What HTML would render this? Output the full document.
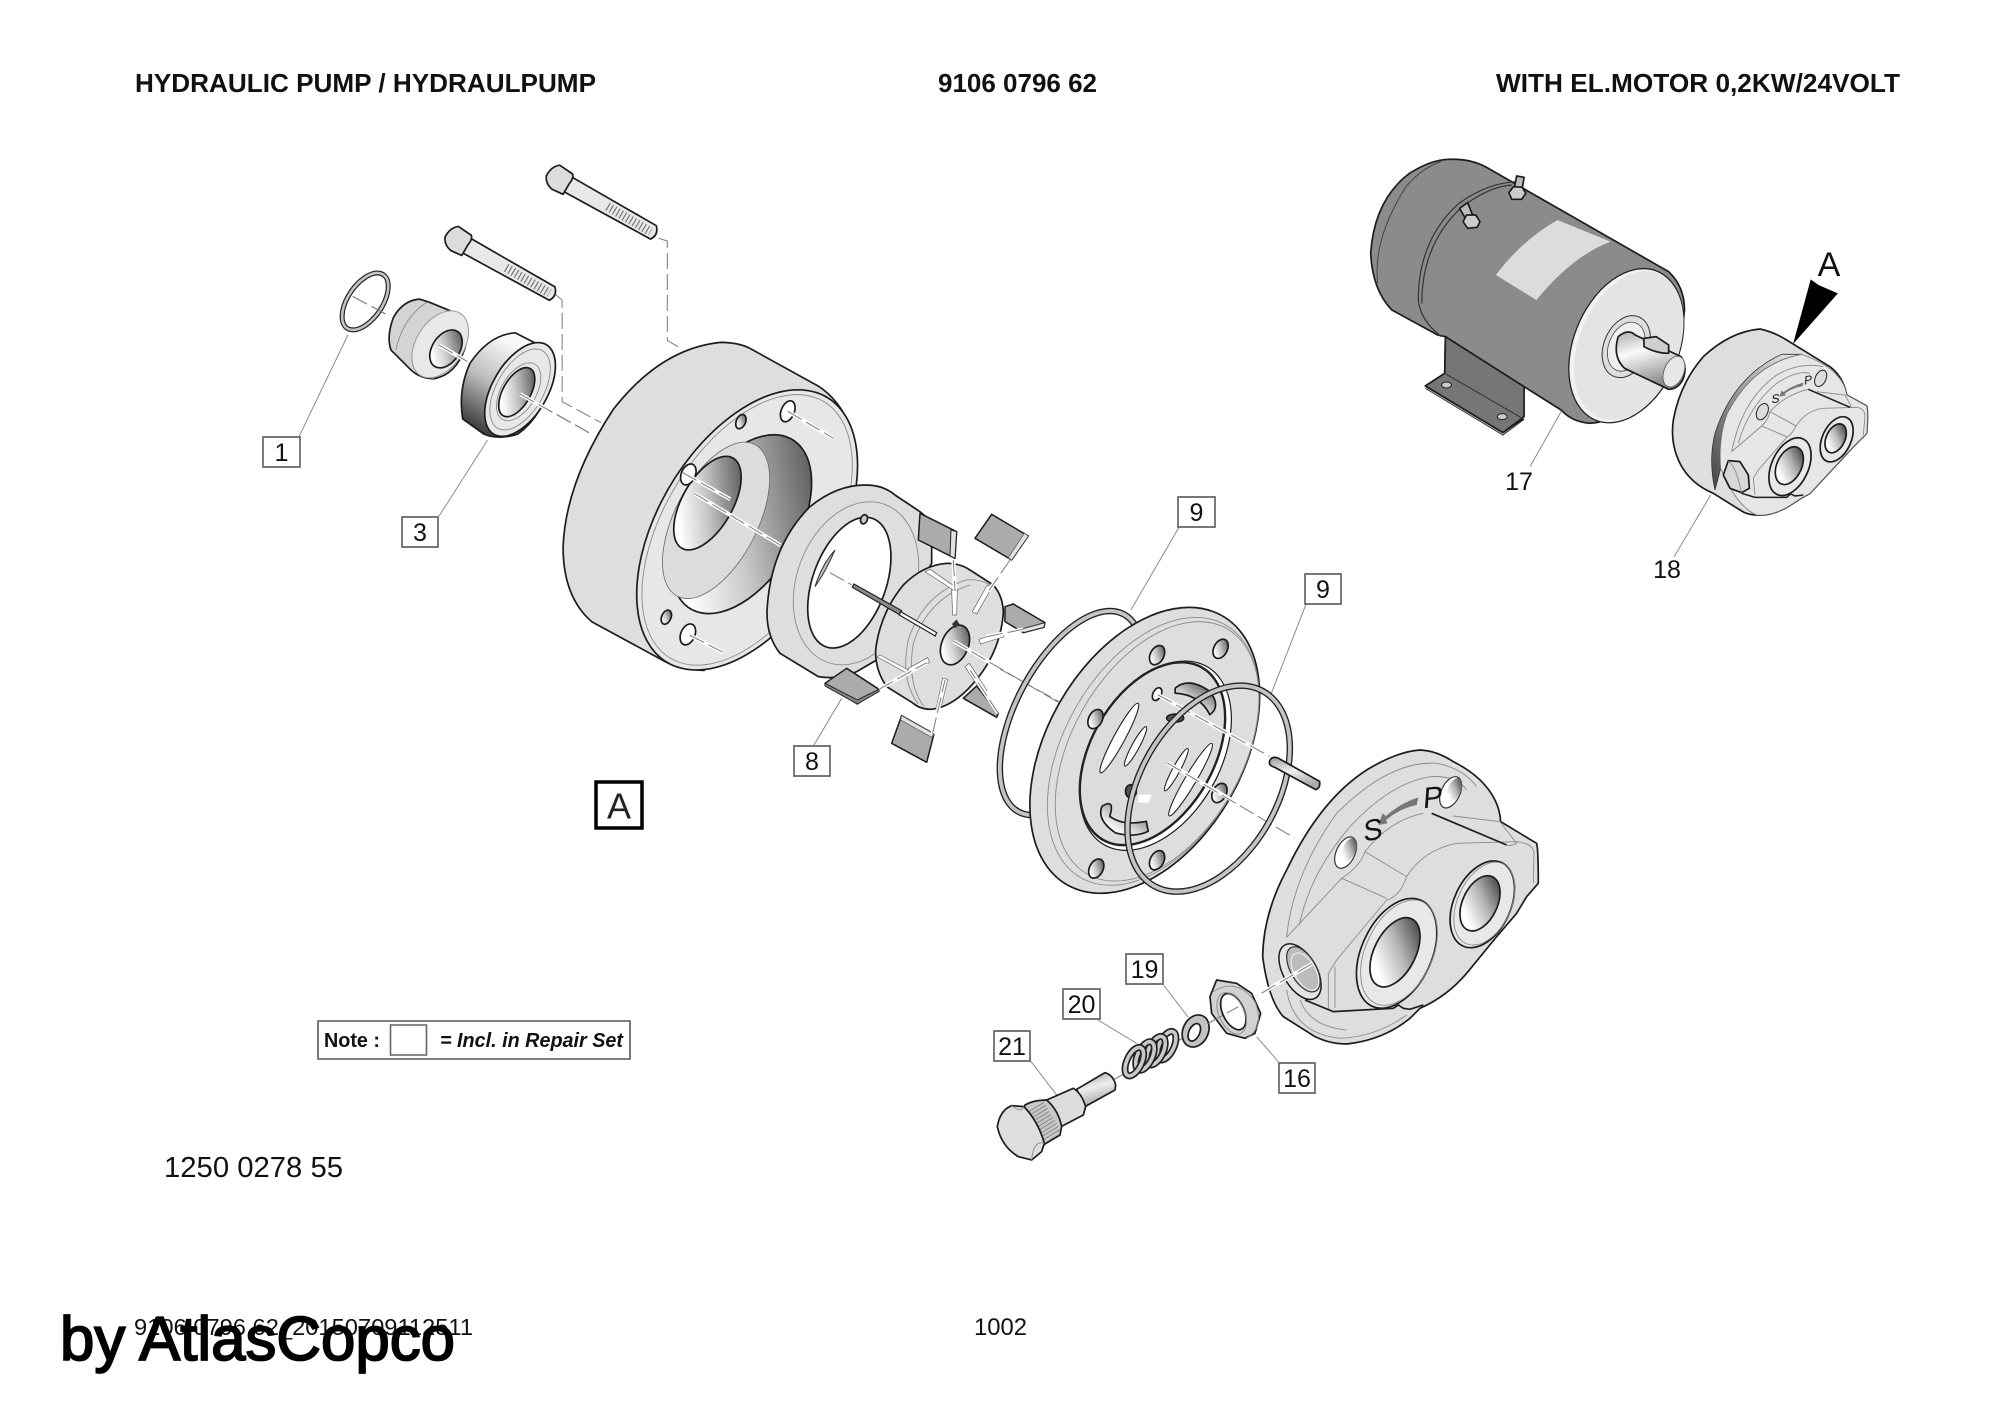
<!DOCTYPE html>
<html>
<head>
<meta charset="utf-8">
<title>Hydraulic pump 9106 0796 62</title>
<style>
html,body{margin:0;padding:0;background:#fff;width:2000px;height:1414px;overflow:hidden}
svg{display:block;font-family:"Liberation Sans",sans-serif}
svg *{vector-effect:non-scaling-stroke}
.o{stroke:#1c1c1c;stroke-width:1.7;stroke-linejoin:round}
.t{fill:none;stroke:#8a8a8a;stroke-width:.9}
.l{fill:none;stroke:#8c8c8c;stroke-width:1}
.d{fill:none;stroke:#7a7a7a;stroke-width:1;stroke-dasharray:16 5}
.w{fill:none;stroke:#fff;stroke-width:4}
.f{fill:#dedede}.g{fill:#e8e8e8}
.r1{fill:none;stroke:#222;stroke-width:6.5}
.r2{fill:none;stroke:#c4c4c4;stroke-width:3.8}
.s1{fill:none;stroke:#222;stroke-width:7}
.s2{fill:none;stroke:#c9c9c9;stroke-width:3.6}
.box{fill:#fff;stroke:#666;stroke-width:1.7}
.n{font-size:25px;text-anchor:middle;fill:#111}
.h{font-size:25.5px;font-weight:bold;fill:#111}
.v{fill:#ababab;stroke:#1c1c1c;stroke-width:1.5;stroke-linejoin:round}
</style>
</head>
<body>
<svg width="2000" height="1414" viewBox="0 0 2000 1414" xmlns="http://www.w3.org/2000/svg">
<defs>
<linearGradient id="hg" x1=".8" y1="0" x2=".3" y2="1"><stop offset="0" stop-color="#3d3d3d"/><stop offset=".45" stop-color="#b5b5b5"/><stop offset=".85" stop-color="#fff"/></linearGradient>
<linearGradient id="bg" x1=".85" y1=".05" x2=".2" y2=".8"><stop offset="0" stop-color="#555"/><stop offset=".6" stop-color="#c9c9c9"/><stop offset="1" stop-color="#fff"/></linearGradient>
<linearGradient id="sd" x1=".1" y1=".95" x2=".55" y2=".1"><stop offset="0" stop-color="#2e2e2e"/><stop offset=".55" stop-color="#bdbdbd"/><stop offset="1" stop-color="#f8f8f8"/></linearGradient>
<linearGradient id="sh" x1="0" y1="0" x2=".35" y2="1"><stop offset="0" stop-color="#aaa"/><stop offset=".4" stop-color="#fafafa"/><stop offset="1" stop-color="#8a8a8a"/></linearGradient>
<linearGradient id="bd" x1="0" y1="1" x2="1" y2="0"><stop offset="0" stop-color="#444"/><stop offset=".5" stop-color="#999"/><stop offset="1" stop-color="#eee"/></linearGradient>
<linearGradient id="pn" x1="0" y1="0" x2=".3" y2="1"><stop offset="0" stop-color="#999"/><stop offset=".5" stop-color="#eee"/><stop offset="1" stop-color="#aaa"/></linearGradient>
</defs>

<!-- GROUP 1: bolts, o-ring, bushing, bearing, housing -->
<g transform="translate(250 130) scale(.478 .3827)">
  <polyline class="d" points="855,283 873,290 873,550 900,570"/>
  <polyline class="d" points="640,430 653,445 653,710 735,765"/>
  <line class="d" x1="565" y1="690" x2="715" y2="795"/>
  <line class="d" x1="215" y1="435" x2="290" y2="485"/>
  <line class="l" x1="205" y1="535" x2="103" y2="800"/>
  <line class="l" x1="497" y1="810" x2="395" y2="1010"/>

  <!-- bolt 1 -->
  <path class="o g" d="M672,122 L850,250 Q855,275 838,285 L655,160 Z"/>
  <line x1="748" y1="200" x2="838" y2="266" stroke="#777" stroke-width="9" stroke-dasharray="1.2 2.6"/>
  <path class="o" fill="#dcdcdc" d="M648,92 L675,115 Q678,125 668,140 L655,168 L632,155 Q618,140 620,120 Q630,95 648,92 Z"/>
  <!-- bolt 2 -->
  <path class="o g" d="M460,282 L638,410 Q643,435 626,445 L443,320 Z"/>
  <line x1="536" y1="360" x2="626" y2="426" stroke="#777" stroke-width="9" stroke-dasharray="1.2 2.6"/>
  <path class="o" fill="#dcdcdc" d="M436,252 L463,275 Q466,285 456,300 L443,328 L420,315 Q406,300 408,280 Q418,255 436,252 Z"/>

  <!-- o ring 1 -->
  <ellipse class="r1" cx="241" cy="448" rx="38" ry="80" transform="rotate(25 241 448)" style="stroke-width:5"/>
  <ellipse class="r2" cx="241" cy="448" rx="38" ry="80" transform="rotate(25 241 448)" style="stroke-width:2.6"/>
  <line class="d" x1="215" y1="435" x2="290" y2="485"/>

  <!-- bushing -->
  <path class="o" fill="#d4d4d4" d="M355,442 Q320,445 300,490 Q285,540 295,575 L335,625 Q355,650 385,650 Q430,640 450,570 Q460,510 430,478 L375,450 Z"/>
  <path class="t" d="M370,450 Q320,490 305,575 M385,650 Q345,630 340,600"/>
  <ellipse class="g" stroke="#999" cx="398" cy="560" rx="52" ry="92" transform="rotate(22 398 560)"/>
  <ellipse class="o" fill="url(#bg)" cx="410" cy="572" rx="30" ry="52" transform="rotate(22 410 572)"/>
  <line class="w" x1="395" y1="562" x2="455" y2="605" stroke-width="3"/>
  <line class="d" x1="395" y1="562" x2="455" y2="605"/>

  <!-- bearing -->
  <path class="o" fill="url(#sd)" d="M555,530 Q500,535 460,610 Q435,680 445,755 L490,795 Q520,810 560,795 Q620,740 632,630 Q630,590 610,565 Z"/>
  <ellipse class="o g" cx="565" cy="678" rx="60" ry="130" transform="rotate(22 565 678)"/>
  <ellipse class="t" cx="565" cy="678" rx="51" ry="112" transform="rotate(22 565 678)"/>
  <ellipse class="t" cx="562" cy="684" rx="38" ry="80" transform="rotate(22 562 684)"/>
  <ellipse class="o" fill="url(#bg)" cx="558" cy="685" rx="30" ry="68" transform="rotate(22 558 685)"/>
  <line class="w" x1="565" y1="690" x2="625" y2="732" stroke-width="3"/>
  <line class="d" x1="565" y1="690" x2="715" y2="795"/>

  <!-- housing -->
  <path class="o f" d="M985,555 Q1020,555 1045,570 L1190,670 Q1250,720 1268,830 Q1275,950 1210,1090 L950,1412 Q905,1410 870,1390 L715,1285 Q655,1220 655,1090 Q660,920 760,730 Q860,570 985,555 Z"/>
  <ellipse class="o" fill="#e7e7e7" cx="1040" cy="1045" rx="194" ry="387" transform="rotate(22 1040 1045)"/>
  <ellipse class="t" cx="1040" cy="1045" rx="183" ry="374" transform="rotate(22 1040 1045)"/>
  <ellipse class="o" fill="url(#bg)" cx="1028" cy="1030" rx="123" ry="247" transform="rotate(22 1028 1030)"/>
  <ellipse fill="#dcdcdc" stroke="#666" stroke-width=".8" cx="975" cy="1020" rx="90" ry="215" transform="rotate(20 975 1020)"/>
  <ellipse class="o" fill="url(#bg)" cx="957" cy="975" rx="55" ry="130" transform="rotate(22 957 975)"/>
  <ellipse class="o" fill="#fff" cx="1125" cy="735" rx="14" ry="28" transform="rotate(15 1125 735)"/>
  <ellipse class="o" fill="url(#bg)" cx="1027" cy="762" rx="10" ry="19" transform="rotate(15 1027 762)"/>
  <ellipse class="o" fill="#fff" cx="917" cy="900" rx="15" ry="28" transform="rotate(15 917 900)"/>
  <ellipse class="o" fill="url(#bg)" cx="871" cy="1273" rx="10" ry="19" transform="rotate(15 871 1273)"/>
  <ellipse class="o" fill="#fff" cx="916" cy="1318" rx="15" ry="28" transform="rotate(15 916 1318)"/>
  <path class="w" stroke-width="3" d="M1125,735 L1220,805 M905,895 L1005,965 M930,950 L1110,1085 M920,1320 L990,1365"/>
  <path class="d" d="M1125,735 L1220,805 M905,895 L1005,965 M930,950 L1110,1085 M920,1320 L990,1365"/>
</g>

<!-- GROUP 5: retaining ring, rotor, vanes -->
<g transform="translate(780 480) scale(.3333)">
  <path class="o f" d="M255,15 Q310,15 345,45 L420,95 L455,125 L455,250 L290,540 L230,575 Q180,600 115,590 L0,520 Q-40,470 -39,395 Q-30,200 90,80 Q170,15 255,15 Z"/>
  <ellipse class="t" cx="228" cy="310" rx="178" ry="252" transform="rotate(20 228 310)"/>
  <ellipse class="o" fill="#fff" cx="208" cy="308" rx="110" ry="205" transform="rotate(20 208 308)"/>
  <path fill="#bbb" stroke="#333" d="M105,320 Q125,255 165,210 Q140,270 105,320 Z"/>
  <ellipse class="o" fill="#ccc" cx="252" cy="118" rx="10" ry="14" transform="rotate(20 252 118)"/>
  <line class="d" x1="150" y1="278" x2="215" y2="315"/>

  <!-- vanes -->
  <path class="v" d="M420,100 L530,155 L525,235 L415,180 Z"/>
  <path fill="#e2e2e2" stroke="#222" stroke-width="1" d="M513,150 L530,155 L525,235 L510,228 Z"/>
  <path class="v" d="M635,103 L745,168 L695,240 L585,175 Z"/>
  <path fill="#e2e2e2" stroke="#555" stroke-width=".7" d="M733,160 L745,168 L695,240 L685,233 Z"/>
  <path class="v" d="M700,372 L795,428 L792,442 L730,458 L675,425 L675,380 Z"/>
  <path fill="#e2e2e2" stroke="#222" stroke-width=".9" d="M795,428 L792,442 L730,458 L725,447 Z"/>
  <path class="v" d="M590,618 L655,700 L650,712 L550,655 Z"/>
  <path class="v" d="M365,707 L462,762 L440,847 L335,790 Z"/>
  <path fill="#e2e2e2" stroke="#555" stroke-width=".7" d="M365,707 L462,762 L455,772 L362,720 Z"/>
  <path class="v" d="M200,565 L297,628 L232,672 L135,610 Z"/>
  <path fill="#888" stroke="#222" stroke-width="1" d="M135,610 L232,660 L297,628 L297,635 L232,672 L135,618 Z"/>

  <!-- rotor -->
  <path class="o f" d="M500,250 Q540,250 570,270 L640,315 Q670,350 670,400 Q660,520 580,610 Q520,680 455,688 Q420,688 400,670 L320,620 Q285,570 287,510 Q300,400 370,315 Q430,255 500,250 Z"/>
  <path class="t" d="M415,672 Q360,600 385,480 Q430,340 560,300 Q600,295 640,320 M432,680 Q380,610 400,490 Q445,355 570,315"/>
  <g fill="#fff" stroke="#666" stroke-width=".7">
    <polygon points="435,275 450,268 525,320 520,330"/>
    <polygon points="515,330 532,330 530,405 518,405"/>
    <polygon points="622,315 636,322 590,402 577,395"/>
    <polygon points="668,455 672,470 602,492 597,478"/>
    <polygon points="555,560 568,550 620,630 608,640"/>
    <polygon points="488,595 503,598 484,680 470,680"/>
    <polygon points="385,565 443,533 449,547 383,580"/>
    <polygon points="290,530 300,525 385,570 378,578"/>
  </g>
  <polygon points="222,312 365,392 360,405 217,322" fill="#8a8a8a" stroke="#222" stroke-width="1.2"/>
  <polygon points="362,395 470,458 466,468 358,405" fill="#fff" stroke="#222" stroke-width="1.2"/>
  <ellipse class="o" fill="url(#bg)" cx="525" cy="495" rx="40" ry="62" transform="rotate(22 525 495)"/>
  <polygon points="516,432 530,418 538,432 525,445" fill="#333"/>
  <path class="w" stroke-width="2.4" d="M520,483 L720,600 M458,760 L495,600 M520,240 L525,330 M690,240 L625,335 M730,448 L620,470 M655,700 L570,570 M297,628 L440,548"/>
  <path class="d" d="M520,483 L720,600 L840,670 M458,760 L495,600 M520,240 L525,330 M690,240 L625,335 M730,448 L620,470 M655,700 L570,570 M297,628 L440,548"/>
  <line class="l" x1="185" y1="655" x2="102" y2="795"/>
</g>

<!-- GROUP 2: o-ring, valve plate, ring, pin -->
<g transform="translate(1000 450) scale(.385 .333)">
  <line class="d" x1="0" y1="658" x2="160" y2="760"/>
  <line class="l" x1="465" y1="232" x2="340" y2="480"/>
  <line class="l" x1="795" y1="463" x2="705" y2="730"/>
  <ellipse class="r1" cx="185" cy="790" rx="146" ry="327" transform="rotate(23 185 790)"/>
  <ellipse class="r2" cx="185" cy="790" rx="146" ry="327" transform="rotate(23 185 790)"/>
  <!-- plate -->
  <ellipse class="o f" cx="376" cy="902" rx="261" ry="453" transform="rotate(23 376 902)"/>
  <ellipse class="t" cx="398" cy="905" rx="238" ry="425" transform="rotate(23 398 905)"/>
  <ellipse class="t" cx="408" cy="905" rx="228" ry="412" transform="rotate(23 408 905)"/>
  <ellipse fill="#fff" stroke="#1c1c1c" stroke-width="1.2" cx="404" cy="918" rx="172" ry="300" transform="rotate(23 404 918)"/>
  <ellipse fill="#dcdcdc" stroke="#222" stroke-width="2.4" cx="396" cy="912" rx="164" ry="290" transform="rotate(23 396 912)"/>
  <!-- slots -->
  <g fill="#fff" stroke="#222" stroke-width="1.1">
    <ellipse cx="310" cy="865" rx="15" ry="115" transform="rotate(25 310 865)"/>
    <ellipse cx="352" cy="890" rx="10" ry="65" transform="rotate(25 352 890)"/>
    <ellipse cx="495" cy="990" rx="15" ry="122" transform="rotate(27 495 990)"/>
    <ellipse cx="458" cy="960" rx="10" ry="70" transform="rotate(25 458 960)"/>
  </g>
  <path class="o" fill="url(#bg)" d="M455,715 Q490,680 545,725 Q575,770 545,795 Q520,735 455,730 Z"/>
  <path class="o" fill="url(#bg)" d="M265,1070 Q300,1045 285,1100 Q320,1130 380,1115 L385,1145 Q350,1165 300,1150 Q250,1110 265,1070 Z"/>
  <ellipse class="o" fill="#fff" cx="408" cy="733" rx="11" ry="20" transform="rotate(20 408 733)"/>
  <ellipse class="o" fill="#555" cx="455" cy="805" rx="22" ry="12"/>
  <ellipse class="o" fill="#555" cx="340" cy="1025" rx="14" ry="20"/>
  <path fill="#fff" d="M360,1035 L395,1035 L385,1060 L358,1058 Z"/>
  <!-- bolt holes -->
  <g class="o" fill="url(#bg)">
    <ellipse cx="408" cy="616" rx="18" ry="30" transform="rotate(20 408 616)"/>
    <ellipse cx="573" cy="597" rx="18" ry="30" transform="rotate(20 573 597)"/>
    <ellipse cx="248" cy="808" rx="18" ry="30" transform="rotate(20 248 808)"/>
    <ellipse cx="250" cy="1257" rx="18" ry="30" transform="rotate(20 250 1257)"/>
    <ellipse cx="408" cy="1232" rx="18" ry="30" transform="rotate(20 408 1232)"/>
    <ellipse cx="570" cy="1030" rx="18" ry="30" transform="rotate(20 570 1030)"/>
  </g>
  <path class="w" stroke-width="3" d="M410,735 L700,920 M435,940 L690,1110"/>
  <path class="d" d="M410,735 L700,920 M435,940 L765,1165"/>
  <!-- ring 9b -->
  <ellipse class="r1" cx="542" cy="1017" rx="184" ry="326" transform="rotate(22.5 542 1017)"/>
  <ellipse class="r2" cx="542" cy="1017" rx="184" ry="326" transform="rotate(22.5 542 1017)"/>
  <!-- pin -->
  <path class="o" fill="url(#pn)" d="M700,935 Q705,918 722,925 L830,995 Q833,1015 820,1020 L712,952 Q698,948 700,935 Z"/>
</g>

<!-- GROUP 7: front cover -->
<g transform="translate(1250 740) scale(.3333)">
  <path class="o f" d="M510,30 Q560,32 610,65 Q700,110 735,180 Q750,210 752,245 L860,310 Q865,330 865,430 L830,470 L800,520 L740,590 L650,700 Q590,770 510,805 L480,835 Q400,900 290,912 Q240,912 195,890 L100,830 Q55,780 38,650 Q40,520 110,390 Q210,180 350,90 Q440,35 510,30 Z"/>
  <path class="t" d="M110,590 Q130,400 260,220 Q420,60 560,70 Q640,85 680,140"/>
  <path class="t" d="M148,555 Q180,400 300,260 Q420,130 540,110 Q620,105 650,150"/>
  <path class="t" d="M110,592 L275,415 Q330,380 345,335 Q420,240 520,220"/>
  <path class="t" d="M275,415 L410,475 M345,335 L470,410 Q450,470 410,480 L260,660 L235,700 L235,810 M255,680 L255,805"/>
  <path class="t" d="M470,410 Q520,330 620,310 L800,305 Q850,310 852,340 L850,430"/>
  <path class="t" d="M110,750 Q130,880 270,895 Q380,890 470,825 M150,780 Q180,860 290,870"/>
  <path class="t" d="M610,228 L750,245 L800,310 Q780,320 770,315"/>
  <path fill="none" stroke="#1c1c1c" stroke-width="1.7" d="M545,220 L770,315"/>
  <path fill="none" stroke="#1c1c1c" stroke-width="1.7" d="M165,780 L250,815 L430,805 L445,795 L460,805 L480,808 L520,795"/>
  <!-- ports -->
  <ellipse class="o g" cx="440" cy="640" rx="105" ry="175" transform="rotate(25 440 640)"/>
  <ellipse class="t" cx="447" cy="638" rx="100" ry="168" transform="rotate(25 447 638)"/>
  <ellipse class="o" fill="url(#hg)" cx="435" cy="637" rx="62" ry="112" transform="rotate(27 435 637)"/>
  <ellipse class="o g" cx="697" cy="493" rx="85" ry="138" transform="rotate(25 697 493)"/>
  <ellipse class="t" cx="703" cy="491" rx="80" ry="132" transform="rotate(25 703 491)"/>
  <ellipse class="o" fill="url(#hg)" cx="690" cy="490" rx="52" ry="88" transform="rotate(25 690 490)"/>
  <ellipse fill="#fff" stroke="#333" stroke-width="1.2" cx="287" cy="338" rx="28" ry="50" transform="rotate(25 287 338)"/>
  <ellipse fill="url(#hg)" cx="297" cy="330" rx="20" ry="38" transform="rotate(25 297 330)"/>
  <ellipse fill="#fff" stroke="#333" stroke-width="1.2" cx="602" cy="157" rx="28" ry="50" transform="rotate(25 602 157)"/>
  <ellipse fill="url(#hg)" cx="612" cy="150" rx="20" ry="38" transform="rotate(25 612 150)"/>
  <!-- threaded port -->
  <ellipse fill="#e4e4e4" stroke="#1c1c1c" stroke-width="1.5" cx="150" cy="695" rx="50" ry="92" transform="rotate(-30 150 695)"/>
  <ellipse fill="#bcbcbc" stroke="#333" stroke-width="1.2" cx="160" cy="688" rx="38" ry="75" transform="rotate(-30 160 688)"/>
  <ellipse fill="none" stroke="#eee" stroke-width="1.2" cx="165" cy="695" rx="32" ry="62" transform="rotate(-30 165 695)"/>
  <line class="w" x1="185" y1="672" x2="20" y2="768" stroke-width="3"/>
  <line class="d" x1="185" y1="672" x2="20" y2="768"/>
  <!-- arrow S P -->
  <path fill="#777" d="M505,172 L500,195 Q450,205 408,240 L412,250 L385,255 L398,220 L408,228 Q450,190 505,172 Z"/>
  <text x="0" y="0" font-size="88" fill="#111" transform="translate(340 305) rotate(-10) skewX(-10)">S</text>
  <text x="0" y="0" font-size="88" fill="#111" transform="translate(518 205) rotate(-6) skewX(-10)">P</text>
</g>

<!-- GROUP 4: plug, spring, washer, nut -->
<g transform="translate(950 930) scale(.3333)">
  <line class="l" x1="241" y1="392" x2="320" y2="495"/>
  <line class="l" x1="444" y1="270" x2="560" y2="340"/>
  <line class="l" x1="638" y1="162" x2="715" y2="262"/>
  <line class="l" x1="920" y1="320" x2="989" y2="400"/>
  <line class="d" x1="490" y1="450" x2="545" y2="418"/>
  <line class="d" x1="680" y1="335" x2="745" y2="298"/>
  <line class="d" x1="775" y1="280" x2="865" y2="230"/>
  <!-- plug -->
  <path class="o" fill="url(#pn)" d="M380,478 L465,428 Q490,435 497,465 L495,480 L405,530 Z"/>
  <path class="o" fill="#ddd" d="M290,510 L370,475 Q395,490 407,530 L400,555 L333,590 Z"/>
  <path class="o" fill="#c8c8c8" d="M225,525 Q250,510 290,510 Q325,540 335,590 L330,615 L280,645 Q230,590 220,540 Z"/>
  <line x1="250" y1="535" x2="305" y2="625" stroke="#888" stroke-width="24" stroke-dasharray="1 2.5"/>
  <path class="o f" d="M185,527 L222,530 Q265,575 283,640 L275,665 L245,690 L205,680 Q155,650 142,590 Q150,540 185,527 Z"/>
  <path class="t" d="M185,527 Q215,550 222,530 M283,640 Q250,630 245,690"/>
  <!-- spring -->
  <g>
    <ellipse class="s1" cx="650" cy="347" rx="22" ry="46" transform="rotate(25 650 347)"/><ellipse class="s2" cx="650" cy="347" rx="22" ry="46" transform="rotate(25 650 347)"/>
    <ellipse class="s1" cx="618" cy="362" rx="22" ry="46" transform="rotate(25 618 362)"/><ellipse class="s2" cx="618" cy="362" rx="22" ry="46" transform="rotate(25 618 362)"/>
    <ellipse class="s1" cx="585" cy="378" rx="22" ry="46" transform="rotate(25 585 378)"/><ellipse class="s2" cx="585" cy="378" rx="22" ry="46" transform="rotate(25 585 378)"/>
    <ellipse class="s1" cx="553" cy="395" rx="22" ry="46" transform="rotate(25 553 395)"/><ellipse class="s2" cx="553" cy="395" rx="22" ry="46" transform="rotate(25 553 395)"/>
  </g>
  <!-- washer -->
  <ellipse class="o" fill="#c2c2c2" cx="737" cy="303" rx="38" ry="50" transform="rotate(25 737 303)"/>
  <ellipse class="o" fill="#fff" cx="733" cy="307" rx="16" ry="28" transform="rotate(25 733 307)"/>
  <!-- nut -->
  <path class="o" fill="#d2d2d2" d="M800,150 L860,160 L905,190 L932,250 L915,310 L885,325 L830,310 L785,250 L780,200 Z"/>
  <path class="t" d="M790,185 Q860,140 915,215 Q945,290 890,325"/>
  <ellipse class="o" fill="#fff" cx="850" cy="245" rx="32" ry="58" transform="rotate(-25 850 245)"/>
  <ellipse class="t" cx="845" cy="250" rx="38" ry="66" transform="rotate(-25 845 250)"/>
  <line class="d" x1="775" y1="280" x2="865" y2="230"/>
</g>

<!-- GROUP 3: motor -->
<g transform="translate(1346 140) scale(.3526 .3333)">
  <line class="l" x1="610" y1="815" x2="522" y2="980"/>
  <path class="o" fill="#8b8b8b" d="M290,58 Q350,55 395,80 L915,395 Q960,440 960,510 Q950,660 830,780 Q770,845 690,850 Q640,845 610,810 L505,740 L500,838 L445,878 L225,738 L280,700 L282,590 L260,585 L130,510 Q75,450 70,340 Q80,180 180,100 Q240,60 290,58 Z"/>
  <path fill="none" stroke="#444" stroke-width="1" d="M90,430 Q75,300 170,140 Q220,80 270,65"/>
  <path fill="none" stroke="#333" stroke-width="1.2" d="M205,480 Q205,300 320,190 Q400,130 480,125 M215,490 Q215,310 330,200 Q405,140 470,135 M205,480 Q210,540 270,590"/>
  <!-- label -->
  <path fill="#dcdcdc" d="M600,240 L750,305 Q640,350 540,480 L425,405 Q500,300 600,240 Z"/>
  <!-- bracket -->
  <path class="o" fill="#767676" d="M282,590 L505,740 L505,830 L445,878 L225,738 L280,700 Z"/>
  <path fill="none" stroke="#333" stroke-width="1" d="M280,700 L505,838 M225,745 L445,885 L505,838"/>
  <ellipse fill="#ccc" stroke="#222" stroke-width="1" cx="285" cy="735" rx="14" ry="9"/>
  <ellipse fill="#ccc" stroke="#222" stroke-width="1" cx="443" cy="830" rx="14" ry="9"/>
  <!-- terminals -->
  <path class="o" fill="#bbb" d="M322,205 L345,188 L358,222 L340,238 Z"/>
  <path class="o" fill="#ccc" d="M332,245 L342,225 L368,225 L380,245 L372,262 L345,265 Z"/>
  <path class="o" fill="#bbb" d="M478,140 L484,108 L505,112 L500,145 Z"/>
  <path class="o" fill="#ccc" d="M462,158 L475,140 L500,142 L510,160 L498,178 L470,178 Z"/>
  <!-- front face -->
  <ellipse fill="#f2f2f2" stroke="#222" stroke-width="1.3" cx="795" cy="617" rx="150" ry="240" transform="rotate(20 795 617)"/>
  <ellipse fill="#e4e4e4" cx="802" cy="617" rx="142" ry="232" transform="rotate(20 802 617)"/>
  <!-- shaft -->
  <ellipse fill="#ddd" stroke="#333" stroke-width="1" cx="795" cy="620" rx="64" ry="96" transform="rotate(20 795 620)"/>
  <ellipse fill="#eee" stroke="#444" stroke-width=".8" cx="795" cy="620" rx="50" ry="76" transform="rotate(20 795 620)"/>
  <path class="o" fill="url(#sh)" d="M772,590 Q800,565 820,585 L950,650 Q970,680 955,720 Q940,748 915,748 L790,685 Q755,650 772,590 Z"/>
  <ellipse fill="#e7e7e7" stroke="#555" stroke-width=".8" cx="930" cy="695" rx="28" ry="48" transform="rotate(20 930 695)"/>
  <path class="o" fill="#cfcfcf" d="M845,595 L880,590 L915,615 L915,640 Q880,640 845,620 Z"/>
  <!-- black arrow -->
  <polygon points="1268,612 1318,418 1340,435 1395,460" fill="#000"/>
</g>

<!-- GROUP 8: small pump -->
<g transform="translate(1670 320) scale(.3333)">
  <line class="l" x1="122" y1="525" x2="12" y2="711"/>
  <path class="o f" d="M270,27 Q310,35 350,60 L480,140 Q520,170 530,225 L590,258 Q595,280 590,340 L550,380 L420,520 Q390,535 370,550 Q310,590 260,585 Q230,585 210,570 L130,520 Q60,490 30,430 Q0,370 10,300 Q30,190 100,110 Q180,35 270,27 Z"/>
  <path fill="url(#bd)" stroke="#333" stroke-width=".8" d="M135,510 Q115,420 135,340 Q190,170 335,103 L395,103 Q250,130 172,280 Q145,350 152,445 Z"/>
  <path fill="#e6e6e6" stroke="#777" stroke-width=".8" d="M395,103 Q470,130 500,165 Q525,190 530,225 L590,258 Q595,280 590,340 L550,380 L420,520 Q390,535 370,550 Q310,590 260,585 Q200,560 152,445 Q145,350 172,280 Q250,130 395,103 Z"/>
  <path class="t" d="M185,395 Q215,240 320,165 Q390,125 460,140 M205,370 Q235,260 320,190 Q380,150 420,160"/>
  <path class="t" d="M185,395 L275,318 Q295,300 300,275 Q345,225 415,208 M275,318 L350,350 M300,275 L378,318 Q365,345 350,352 L265,450 L250,475 L255,525 M378,318 Q410,270 460,265 L560,262 Q585,265 585,290 L580,345"/>
  <path class="t" d="M440,215 L525,225 L545,262"/>
  <path fill="none" stroke="#1c1c1c" stroke-width="1.5" d="M415,208 L540,262"/>
  <path fill="none" stroke="#1c1c1c" stroke-width="1.5" d="M215,520 L255,532 L350,532 L362,522 L375,528 L400,525"/>
  <ellipse class="o g" cx="360" cy="440" rx="55" ry="92" transform="rotate(25 360 440)"/>
  <ellipse class="o" fill="url(#hg)" cx="358" cy="437" rx="37" ry="60" transform="rotate(25 358 437)"/>
  <ellipse class="o g" cx="500" cy="358" rx="43" ry="72" transform="rotate(25 500 358)"/>
  <ellipse class="o" fill="url(#hg)" cx="497" cy="355" rx="28" ry="46" transform="rotate(25 497 355)"/>
  <ellipse fill="#ddd" stroke="#222" stroke-width="1" cx="277" cy="275" rx="16" ry="26" transform="rotate(25 277 275)"/>
  <ellipse fill="#ddd" stroke="#222" stroke-width="1" cx="452" cy="175" rx="16" ry="26" transform="rotate(25 452 175)"/>
  <path class="o" fill="#d8d8d8" d="M175,422 L210,425 L235,465 L238,505 L215,518 L180,505 L160,465 Z"/>
  <path class="t" d="M175,422 Q195,440 205,480 L215,518"/>
  <path fill="#777" d="M400,188 L398,198 Q365,205 345,220 L347,226 L328,230 L335,212 L341,216 Q365,198 400,188 Z"/>
  <text font-size="36" fill="#111" transform="translate(304 250) rotate(-8) skewX(-12)">S</text>
  <text font-size="36" fill="#111" transform="translate(402 194) rotate(-8) skewX(-12)">P</text>
</g>

<!-- item labels -->
<g>
  <rect class="box" x="263" y="437" width="37" height="30"/><text class="n" x="281.5" y="461">1</text>
  <rect class="box" x="402" y="517" width="36" height="30"/><text class="n" x="420" y="541">3</text>
  <rect class="box" x="1178" y="497" width="37" height="30"/><text class="n" x="1196.500" y="521">9</text>
  <rect class="box" x="1305" y="574" width="36" height="30"/><text class="n" x="1323" y="598">9</text>
  <rect class="box" x="794" y="746" width="36" height="30"/><text class="n" x="812" y="770">8</text>
  <rect class="box" x="1126" y="954" width="37" height="30"/><text class="n" x="1144.500" y="978">19</text>
  <rect class="box" x="1063" y="989" width="37" height="30"/><text class="n" x="1081.500" y="1013">20</text>
  <rect class="box" x="994" y="1031" width="36" height="30"/><text class="n" x="1012" y="1055">21</text>
  <rect class="box" x="1279" y="1063" width="36" height="30"/><text class="n" x="1297" y="1087">16</text>
  <text class="n" x="1519" y="490">17</text>
  <text class="n" x="1667" y="578">18</text>
  <text x="1829" y="276" font-size="34" text-anchor="middle" fill="#111">A</text>
  <rect x="596" y="782" width="46" height="46" fill="#fff" stroke="#000" stroke-width="3.500"/>
  <text x="619" y="818.500" font-size="36" text-anchor="middle" fill="#222">A</text>
</g>

<!-- header -->
<text class="h" x="135" y="92" textLength="461" lengthAdjust="spacingAndGlyphs">HYDRAULIC PUMP / HYDRAULPUMP</text>
<text class="h" x="938" y="92" textLength="159" lengthAdjust="spacingAndGlyphs">9106 0796 62</text>
<text class="h" x="1496" y="92" textLength="404" lengthAdjust="spacingAndGlyphs">WITH EL.MOTOR 0,2KW/24VOLT</text>

<!-- note -->
<rect x="318" y="1021" width="312" height="38" fill="#fff" stroke="#555" stroke-width="1.600"/>
<rect x="390.500" y="1025" width="36" height="30" fill="#fff" stroke="#666" stroke-width="1.600"/>
<text x="324" y="1047" font-size="20" font-weight="bold" fill="#111" textLength="56" lengthAdjust="spacingAndGlyphs">Note :</text>
<text x="440" y="1047" font-size="20" font-weight="bold" font-style="italic" fill="#111" textLength="183" lengthAdjust="spacingAndGlyphs">= Incl. in Repair Set</text>

<!-- footer -->
<text x="164" y="1177" font-size="29" fill="#111" textLength="179" lengthAdjust="spacingAndGlyphs">1250 0278 55</text>
<text x="134" y="1335" font-size="23.4" fill="#111" textLength="339" lengthAdjust="spacingAndGlyphs">9106 0796 62_20150709112511</text>
<text x="974" y="1335" font-size="23.6" fill="#111" textLength="53" lengthAdjust="spacingAndGlyphs">1002</text>
<text x="60" y="1360" font-size="62" fill="#000" stroke="#000" stroke-width="1.800" textLength="395" lengthAdjust="spacingAndGlyphs">by AtlasCopco</text>
</svg>
</body>
</html>
